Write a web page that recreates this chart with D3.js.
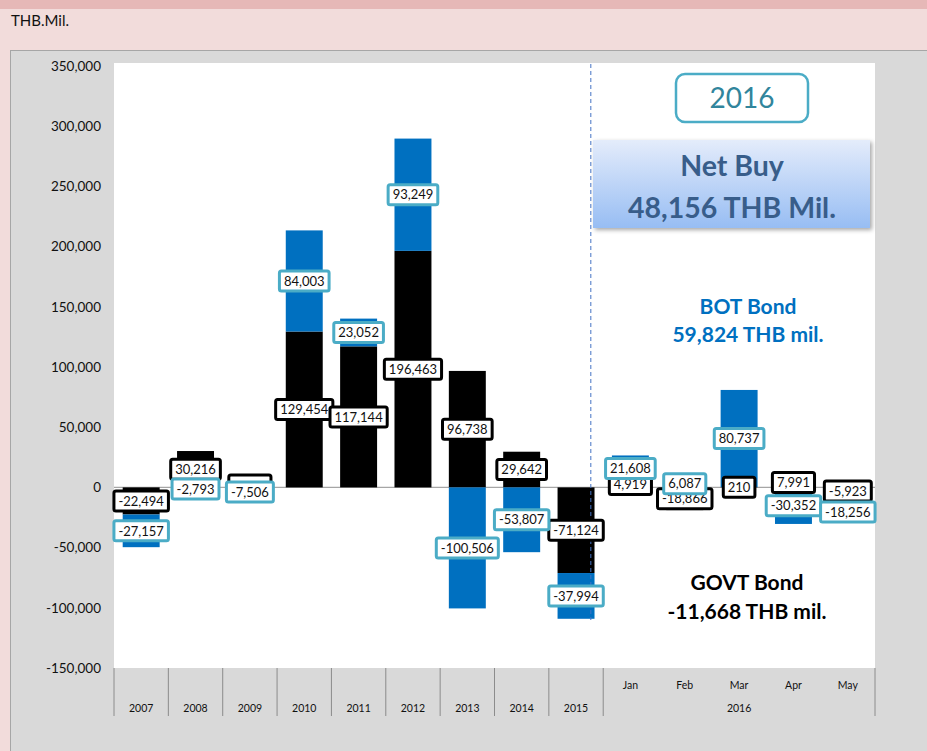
<!DOCTYPE html>
<html>
<head>
<meta charset="utf-8">
<script src="https://cdn.jsdelivr.net/npm/d3@7"></script>
<style>
  html, body { margin: 0; padding: 0; background: #f2dcdb; }
  svg { display: block; font-family: Lato, "Open Sans", sans-serif; }
</style>
</head>
<body>
<svg id="chart" width="927" height="751"></svg>
<script>
// ---- data ----
const categories = ["2007","2008","2009","2010","2011","2012","2013","2014","2015","Jan","Feb","Mar","Apr","May"];
const govtValues = [-22494, 30216, 4000, 129454, 117144, 196463, 96738, 29642, -71124, 4919, -18866, 210, 7991, -5923];
const botValues  = [-27157, -2793, -7506, 84003, 23052, 93249, -100506, -53807, -37994, 21608, 6087, 80737, -30352, -18256];
// labels hidden behind other labels in the original (box only, text covered)
const govtLabelHidden = ["2009"];
const yTicks = [350000, 300000, 250000, 200000, 150000, 100000, 50000, 0, -50000, -100000, -150000];
const yearGroups = ["2007","2008","2009","2010","2011","2012","2013","2014","2015"];
const monthGroup = ["Jan","Feb","Mar","Apr","May"];
const monthGroupLabel = "2016";
const seriesNames = ["GOVT Bond", "BOT Bond"];
const govtTotalText = "-11,668 THB mil.";
const botTotalText = "59,824 THB mil.";
const netBuyLines = ["Net Buy", "48,156 THB Mil."];
const yearBoxText = "2016";
const unitText = "THB.Mil.";

// ---- setup ----
const svg = d3.select("#chart");
const fmt0 = d3.format(",");
const fmt = v => fmt0(v).replace("\u2212", "-");

// background bands
svg.append("rect").attr("x", 0).attr("y", 0).attr("width", 927).attr("height", 9).attr("fill", "#e6b8b7");
svg.append("rect").attr("x", 0).attr("y", 9).attr("width", 927).attr("height", 742).attr("fill", "#f2dcdb");
svg.append("text").attr("x", 11).attr("y", 26).attr("font-size", 15).attr("fill", "#111").text(unitText);

// chart area
svg.append("rect").attr("x", 10.5).attr("y", 50.5).attr("width", 930).attr("height", 720)
  .attr("fill", "#d9d9d9").attr("stroke", "#a6a6a6").attr("stroke-width", 1);

const plot = { left: 114, right: 875, top: 63, bottom: 668 };
svg.append("rect").attr("x", plot.left).attr("y", plot.top)
  .attr("width", plot.right - plot.left).attr("height", plot.bottom - plot.top).attr("fill", "#ffffff");

const x = d3.scaleBand().domain(categories).range([plot.left, plot.right])
  .paddingInner(0.32).paddingOuter(0.16);
const y = d3.scaleLinear().domain([-150000, 350000]).range([668, 66]);

// y tick labels
svg.append("g").selectAll("text").data(yTicks).join("text")
  .attr("x", 101).attr("y", d => y(d)).attr("dy", "0.35em")
  .attr("text-anchor", "end").attr("font-size", 13.5).attr("fill", "#111")
  .text(d => fmt(d));

// stacked data (diverging)
const rows = categories.map((c, i) => ({ cat: c, govt: govtValues[i], bot: botValues[i] }));
const stack = d3.stack().keys(["govt", "bot"]).offset(d3.stackOffsetDiverging);
const stacked = stack(rows);
const colors = { govt: "#000000", bot: "#0070c0" };
const labelStroke = { govt: "#000000", bot: "#4bacc6" };

// zero line
svg.append("line").attr("x1", plot.left).attr("x2", plot.right)
  .attr("y1", y(0)).attr("y2", y(0)).attr("stroke", "#a6a6a6").attr("stroke-width", 1.2);

// bars
stacked.forEach(s => {
  svg.append("g").selectAll("rect").data(s).join("rect")
    .attr("x", d => x(d.data.cat))
    .attr("width", x.bandwidth())
    .attr("y", d => y(Math.max(d[0], d[1])))
    .attr("height", d => Math.abs(y(d[0]) - y(d[1])))
    .attr("fill", colors[s.key]);
});

// dashed separator between 2015 and 2016
const sepX = x("2015") + x.bandwidth() * 0.9;
svg.append("line").attr("x1", sepX).attr("x2", sepX).attr("y1", plot.top + 1).attr("y2", 620)
  .attr("stroke", "#4472c4").attr("stroke-width", 1).attr("stroke-dasharray", "4,3");

// data labels (centered in segments; a BOT label stacked below a negative GOVT
// label is pushed down so it does not cover it)
const labelH = 20;
const govtCenters = {};
stacked.forEach(s => {
  const g = svg.append("g");
  s.forEach(d => {
    const cat = d.data.cat;
    const cx = x(cat) + x.bandwidth() / 2;
    let cy = y((d[0] + d[1]) / 2);
    if (s.key === "govt") govtCenters[cat] = cy;
    if (s.key === "bot" && d.data.bot < 0 && d.data.govt < 0) {
      cy = Math.max(cy, govtCenters[cat] + labelH + 1);
    }
    const txt = fmt(d.data[s.key]);
    const hidden = s.key === "govt" && govtLabelHidden.includes(cat);
    const lg = g.append("g");
    const t = lg.append("text").attr("x", cx).attr("y", cy).attr("dy", "0.36em")
      .attr("text-anchor", "middle").attr("font-size", 13).attr("fill", "#111").text(txt);
    const w = t.node().getComputedTextLength() + 9;
    if (hidden) t.remove();
    lg.insert("rect", "text").attr("x", cx - w / 2).attr("y", cy - labelH / 2)
      .attr("width", w).attr("height", labelH).attr("rx", 2)
      .attr("fill", "#fff").attr("stroke", labelStroke[s.key]).attr("stroke-width", 3);
  });
});

// x axis (grouped)
const axisG = svg.append("g");
const boundaries = categories.slice(0, yearGroups.length + 1).map(c => x(c) - x.step() * x.paddingInner() / 2);
boundaries.push(plot.right);
boundaries.forEach(bx => {
  axisG.append("line").attr("x1", bx).attr("x2", bx).attr("y1", plot.bottom).attr("y2", 716)
    .attr("stroke", "#8c8c8c").attr("stroke-width", 1);
});
axisG.selectAll("text.year").data(yearGroups).join("text").attr("class", "year")
  .attr("x", d => x(d) + x.bandwidth() / 2).attr("y", 712)
  .attr("text-anchor", "middle").attr("font-size", 10.5).attr("fill", "#111").text(d => d);
axisG.selectAll("text.month").data(monthGroup).join("text").attr("class", "month")
  .attr("x", d => x(d) + x.bandwidth() / 2).attr("y", 689)
  .attr("text-anchor", "middle").attr("font-size", 10.5).attr("fill", "#111").text(d => d);
const mStart = x(monthGroup[0]) - x.step() * x.paddingInner() / 2;
axisG.append("text").attr("x", (mStart + plot.right) / 2).attr("y", 712)
  .attr("text-anchor", "middle").attr("font-size", 10.5).attr("fill", "#111").text(monthGroupLabel);

// annotations
const defs = svg.append("defs");
const grad = defs.append("linearGradient").attr("id", "nbGrad").attr("x1", 0).attr("y1", 0).attr("x2", 0).attr("y2", 1);
grad.append("stop").attr("offset", "0%").attr("stop-color", "#e4ecfb");
grad.append("stop").attr("offset", "100%").attr("stop-color", "#97bdf3");
const filt = defs.append("filter").attr("id", "shadow").attr("x", "-10%").attr("y", "-10%").attr("width", "130%").attr("height", "140%");
filt.append("feDropShadow").attr("dx", 2).attr("dy", 2).attr("stdDeviation", 2).attr("flood-color", "#000").attr("flood-opacity", 0.35);

svg.append("rect").attr("x", 676).attr("y", 74).attr("width", 132).attr("height", 48).attr("rx", 9)
  .attr("fill", "#fff").attr("stroke", "#4bacc6").attr("stroke-width", 2.5);
svg.append("text").attr("x", 742).attr("y", 108).attr("text-anchor", "middle")
  .attr("font-size", 28).attr("fill", "#31859c").text(yearBoxText);

svg.append("rect").attr("x", 593).attr("y", 140).attr("width", 277).attr("height", 88)
  .attr("fill", "url(#nbGrad)").attr("filter", "url(#shadow)");
svg.append("text").attr("x", 732).attr("y", 176).attr("text-anchor", "middle")
  .attr("font-size", 28.5).attr("font-weight", "bold").attr("fill", "#385d8a").text(netBuyLines[0]);
svg.append("text").attr("x", 732).attr("y", 218).attr("text-anchor", "middle")
  .attr("font-size", 28.5).attr("font-weight", "bold").attr("fill", "#385d8a").text(netBuyLines[1]);

svg.append("text").attr("x", 748).attr("y", 314).attr("text-anchor", "middle")
  .attr("font-size", 21).attr("font-weight", "bold").attr("fill", "#0070c0").text(seriesNames[1]);
svg.append("text").attr("x", 748).attr("y", 342).attr("text-anchor", "middle")
  .attr("font-size", 21).attr("font-weight", "bold").attr("fill", "#0070c0").text(botTotalText);

svg.append("text").attr("x", 747).attr("y", 590).attr("text-anchor", "middle")
  .attr("font-size", 21).attr("font-weight", "bold").attr("fill", "#000").text(seriesNames[0]);
svg.append("text").attr("x", 747).attr("y", 619).attr("text-anchor", "middle")
  .attr("font-size", 21).attr("font-weight", "bold").attr("fill", "#000").text(govtTotalText);
</script>
</body>
</html>
